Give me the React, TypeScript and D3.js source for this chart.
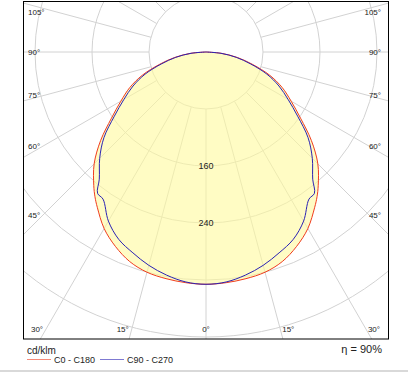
import * as d3 from "d3";
import { useEffect, useRef } from "react";

// gamma angles (deg from nadir) and intensities in cd/klm
const gammas = [0, 5, 10, 15, 20, 25, 30, 35, 37.5, 40, 45, 50, 55, 60, 65, 70, 75, 80, 85, 90];
const c0c180 = [326, 325, 323, 320, 313, 301, 286, 266, 256, 245, 222, 193, 162, 138, 118, 95, 68, 45, 22, 0];
const c90c270 = [326, 324, 318, 310, 300, 290, 274, 252, 250, 233, 211, 187, 157, 133, 113, 91, 65, 43, 21, 0];

const rings = [80, 160, 240, 320, 400, 480];
const ringLabels = [160, 240];
const spokes = [0, 15, 30, 45, 60, 75, 90, 105, 120, 135, 150, 165, 180];
const sideLabels = [45, 60, 75, 90, 105];
const bottomLabels = [0, 15, 30];

const series = [
  { name: "C0 - C180", values: c0c180, color: "#f03c1e" },
  { name: "C90 - C270", values: c90c270, color: "#2a22b4" },
];

export default function App() {
  const ref = useRef<SVGSVGElement>(null);

  useEffect(() => {
    const svg = d3.select(ref.current);
    svg.selectAll("*").remove();

    const W = 408,
      H = 372;
    const frame = { left: 23.5, top: 1.5, right: 388.5, bottom: 339 };
    const cx = 206,
      cy = 52;
    const font = "'Liberation Sans', Arial, sans-serif";

    const r = d3.scaleLinear().domain([0, 80]).range([0, 57]);
    const rad = (deg: number) => (deg * Math.PI) / 180;

    svg.append("rect").attr("width", W).attr("height", H).attr("fill", "#fff");

    svg
      .append("clipPath")
      .attr("id", "frame")
      .append("rect")
      .attr("x", frame.left)
      .attr("y", frame.top)
      .attr("width", frame.right - frame.left)
      .attr("height", frame.bottom - frame.top);

    const plot = svg
      .append("g")
      .attr("clip-path", "url(#frame)")
      .append("g")
      .attr("transform", `translate(${cx},${cy})`);

    const pts = (vals: number[]) => {
      const left = gammas.map((g, i) => [-g, vals[i]] as [number, number]).reverse();
      const right = gammas.slice(1).map((g, i) => [g, vals[i + 1]] as [number, number]);
      return [...left, ...right];
    };

    const line = d3
      .lineRadial<[number, number]>()
      .angle((d) => Math.PI - rad(d[0]))
      .radius((d) => r(d[1]))
      .curve(d3.curveCatmullRom.alpha(0.5));

    // grid
    const grid = plot.append("g").attr("stroke", "#d2d2d2").attr("fill", "none");
    grid
      .selectAll("circle")
      .data(rings)
      .join("circle")
      .attr("r", (d) => r(d))
      .attr("stroke-width", 1);

    const spokeAngles = Array.from(new Set(spokes.flatMap((a) => [a, -a])));
    grid
      .selectAll("line")
      .data(spokeAngles)
      .join("line")
      .attr("x1", (d) => r(80) * Math.sin(rad(d)))
      .attr("y1", (d) => r(80) * Math.cos(rad(d)))
      .attr("x2", (d) => 700 * Math.sin(rad(d)))
      .attr("y2", (d) => 700 * Math.cos(rad(d)));

    // translucent fill under the outer curve
    plot
      .append("path")
      .attr("d", line(pts(c0c180)))
      .attr("fill", "#fffa9c")
      .attr("fill-opacity", 0.6)
      .attr("stroke", "none");

    // ring labels
    plot
      .selectAll("text.ring")
      .data(ringLabels)
      .join("text")
      .attr("class", "ring")
      .attr("x", 0)
      .attr("y", (d) => r(d))
      .attr("dy", "0.35em")
      .attr("text-anchor", "middle")
      .attr("font-family", font)
      .attr("font-size", 9)
      .attr("fill", "#222")
      .text((d) => d);

    // curves
    plot
      .selectAll("path.curve")
      .data(series)
      .join("path")
      .attr("class", "curve")
      .attr("d", (s) => line(pts(s.values)))
      .attr("fill", "none")
      .attr("stroke", (s) => s.color)
      .attr("stroke-width", 1);

    // angle labels
    const labels = svg
      .append("g")
      .attr("font-family", font)
      .attr("font-size", 8)
      .attr("fill", "#222");

    const sideY = (a: number, xAt: number) => {
      const dx = Math.abs(xAt - cx);
      const y = cy + dx / Math.tan(rad(a));
      return Math.max(12, y);
    };

    sideLabels.forEach((a) => {
      labels
        .append("text")
        .attr("x", 28)
        .attr("y", sideY(a, 43))
        .attr("dy", "0.35em")
        .text(`${a}°`);
      labels
        .append("text")
        .attr("x", 381)
        .attr("y", sideY(a, 369))
        .attr("dy", "0.35em")
        .attr("text-anchor", "end")
        .text(`${a}°`);
    });

    const by = 329;
    bottomLabels.forEach((a) => {
      const off = (by - cy) * Math.tan(rad(a));
      if (a === 0) {
        labels.append("text").attr("x", cx).attr("y", by).attr("dy", "0.35em").attr("text-anchor", "middle").text("0°");
        return;
      }
      labels
        .append("text")
        .attr("x", cx - off - 3)
        .attr("y", by)
        .attr("dy", "0.35em")
        .attr("text-anchor", "end")
        .text(`${a}°`);
      labels
        .append("text")
        .attr("x", cx + off + 2)
        .attr("y", by)
        .attr("dy", "0.35em")
        .text(`${a}°`);
    });

    // frame
    svg
      .append("rect")
      .attr("x", frame.left)
      .attr("y", frame.top)
      .attr("width", frame.right - frame.left)
      .attr("height", frame.bottom - frame.top)
      .attr("fill", "none")
      .attr("stroke", "#000")
      .attr("stroke-width", 1);

    // footer
    const foot = svg.append("g").attr("font-family", font).attr("fill", "#222");
    foot.append("text").attr("x", 27).attr("y", 353.5).attr("font-size", 10).text("cd/klm");
    foot
      .append("text")
      .attr("x", 382)
      .attr("y", 353)
      .attr("font-size", 11)
      .attr("text-anchor", "end")
      .text("η = 90%");

    const leg = foot
      .selectAll("g.leg")
      .data(series)
      .join("g")
      .attr("class", "leg")
      .attr("transform", (_, i) => `translate(${i === 0 ? 27 : 100},359.5)`);
    leg
      .append("line")
      .attr("x1", 0)
      .attr("x2", 24)
      .attr("stroke", (s) => s.color)
      .attr("stroke-opacity", 0.6);
    leg
      .append("text")
      .attr("x", 27)
      .attr("dy", "0.35em")
      .attr("font-size", 9)
      .text((s) => s.name);

    svg
      .append("line")
      .attr("x1", 0)
      .attr("x2", W)
      .attr("y1", 371)
      .attr("y2", 371)
      .attr("stroke", "#d9d9d9")
      .attr("stroke-width", 2);
  }, []);

  return (
    <svg
      ref={ref}
      width={408}
      height={372}
      style={{ position: "absolute", left: 0, top: 0, display: "block" }}
    />
  );
}
